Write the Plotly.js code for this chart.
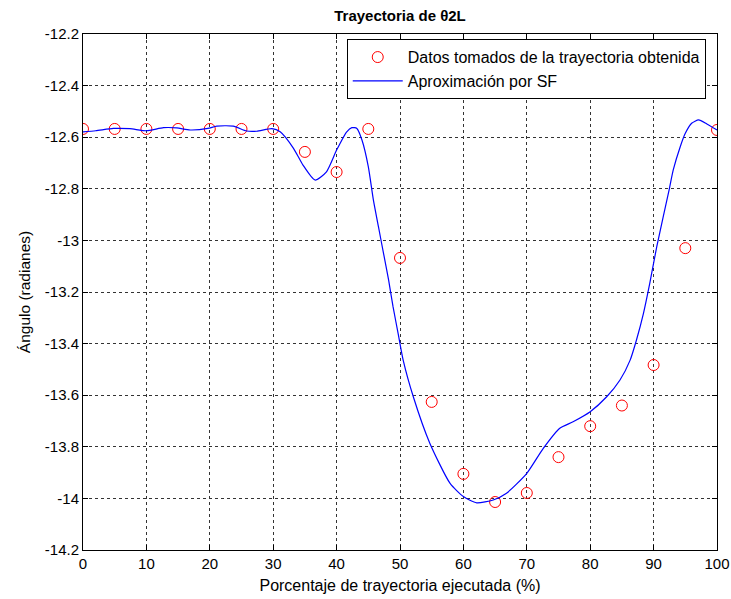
<!DOCTYPE html>
<html>
<head>
<meta charset="utf-8">
<script src="https://cdn.plot.ly/plotly-3.0.1.min.js"></script>
<style>html,body{margin:0;padding:0;background:#fff;}#chart{width:731px;height:599px;}</style>
</head>
<body>
<div id="chart"></div>
<script>
// Sampled data points (percent of trajectory, angle in radians)
const dataX = [0, 5, 10, 15, 20, 25, 30, 35, 40, 45, 50, 55, 60, 65, 70, 75, 80, 85, 90, 95, 100];
const dataY = [-12.568, -12.568, -12.568, -12.568, -12.568, -12.568, -12.568, -12.657, -12.735, -12.568,
               -13.068, -13.626, -13.905, -14.014, -13.979, -13.840, -13.720, -13.640, -13.483, -13.030, -12.572];

// Fourier-series approximation curve
const fitX = [0, 2, 4.8, 7.4, 10, 12.7, 14.8, 16.9, 19.7, 21.1, 23.7, 25.8, 27.4, 29.8, 31.1, 33.2, 34.7, 36.6, 38.4,
              40, 41.6, 42.4, 43.2, 44, 45, 45.8, 46.6, 47.4, 48.2, 48.9, 49.7, 50.5, 52.1, 54.7, 57.9, 60, 62.1,
              64.7, 66.8, 70, 72.6, 75.2, 77.3, 80, 82.6, 84.7, 86.3, 87.3, 88.4, 89.4, 90.5, 92.5, 93.1, 94.2,
              95, 96, 97.1, 98.4, 100];
const fitY = [-12.579, -12.575, -12.566, -12.567, -12.575, -12.563, -12.564, -12.572, -12.566, -12.557, -12.557,
              -12.576, -12.577, -12.567, -12.579, -12.643, -12.708, -12.766, -12.734, -12.650, -12.579, -12.563,
              -12.566, -12.611, -12.714, -12.843, -12.947, -13.050, -13.153, -13.257, -13.360, -13.464, -13.606,
              -13.786, -13.942, -13.993, -14.017, -14.006, -13.980, -13.903, -13.806, -13.728, -13.703, -13.664,
              -13.606, -13.541, -13.464, -13.386, -13.283, -13.166, -13.024, -12.798, -12.727, -12.637, -12.585,
              -12.546, -12.533, -12.549, -12.572];

const xTicks = [0, 10, 20, 30, 40, 50, 60, 70, 80, 90, 100];
const yTicks = [-14.2, -14, -13.8, -13.6, -13.4, -13.2, -13, -12.8, -12.6, -12.4, -12.2];
const yTickText = ['-14.2', '-14', '-13.8', '-13.6', '-13.4', '-13.2', '-13', '-12.8', '-12.6', '-12.4', '-12.2'];

const traces = [
  {
    x: dataX, y: dataY, type: 'scatter', mode: 'markers',
    name: 'Datos tomados de la trayectoria obtenida',
    marker: {symbol: 'circle-open', color: '#ff0000', size: 11, line: {width: 1, color: '#ff0000'}}
  },
  {
    x: fitX, y: fitY, type: 'scatter', mode: 'lines',
    name: 'Aproximación por SF',
    line: {color: '#0000ff', width: 1.2, shape: 'spline', smoothing: 0.6}
  }
];

const axisCommon = {
  showline: true, linecolor: '#000', linewidth: 1, mirror: 'ticks',
  ticks: 'inside', ticklen: 5, tickcolor: '#000',
  showgrid: true, gridcolor: '#333', gridwidth: 1, griddash: '3px,3px',
  zeroline: false,
  tickfont: {family: 'Liberation Sans, Arial, sans-serif', size: 15, color: '#000'}
};

const layout = {
  width: 731, height: 599,
  paper_bgcolor: '#fff', plot_bgcolor: '#fff',
  margin: {l: 83, r: 14, t: 34, b: 49},
  font: {family: 'Liberation Sans, Arial, sans-serif', color: '#000'},
  title: {
    text: '<b>Trayectoria de θ2L</b>',
    font: {size: 15, color: '#000'},
    x: 0.5, xref: 'paper', xanchor: 'center',
    y: 1 - 16 / 599, yref: 'container', yanchor: 'middle'
  },
  xaxis: Object.assign({}, axisCommon, {
    range: [0, 100], tickvals: xTicks,
    title: {text: 'Porcentaje de trayectoria ejecutada (%)', font: {size: 16}, standoff: 8}
  }),
  yaxis: Object.assign({}, axisCommon, {
    range: [-14.2, -12.2], tickvals: yTicks, ticktext: yTickText,
    title: {text: 'Ángulo (radianes)', font: {size: 15.5}, standoff: 10}
  }),
  showlegend: true,
  legend: {
    x: 0.416, y: 0.99, xanchor: 'left', yanchor: 'top',
    bgcolor: '#fff', bordercolor: '#000', borderwidth: 1,
    font: {size: 16, color: '#000'}, itemwidth: 50, tracegroupgap: 0
  }
};

Plotly.newPlot('chart', traces, layout, {displayModeBar: false, staticPlot: true});
</script>
</body>
</html>
